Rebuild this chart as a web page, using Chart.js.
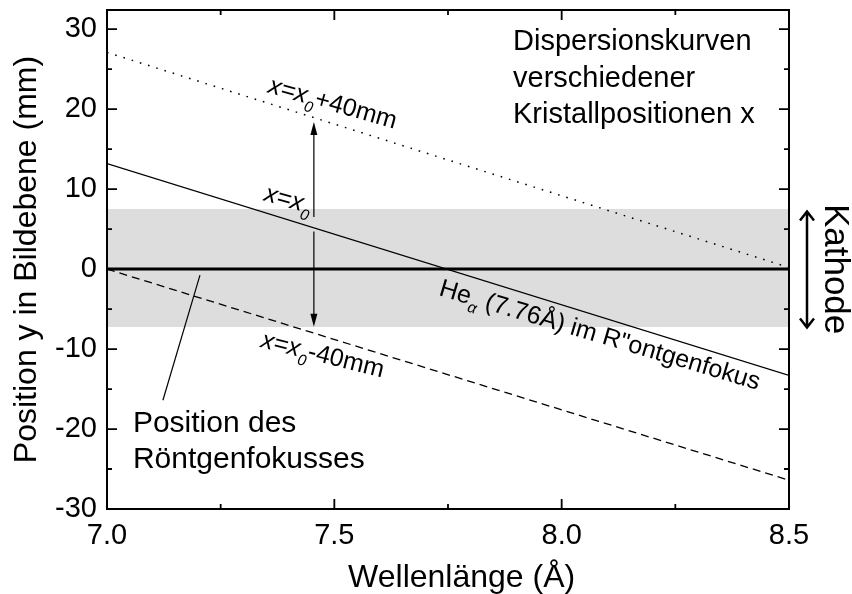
<!DOCTYPE html>
<html>
<head>
<meta charset="utf-8">
<script src="https://cdn.jsdelivr.net/npm/chart.js@4.4.0/dist/chart.umd.min.js"></script>
<style>
  html, body { margin: 0; padding: 0; background: #fff; }
</style>
</head>
<body>
<canvas id="myChart" width="852" height="594"></canvas>
<script>
// wavelength range (Å) and detector position y (mm) at both ends
const wavelengths = [7.0, 8.5];
const curvePlus40 = [27.1, 0.2];    // x = x0 + 40mm
const curveX0 = [13.2, -13.3];      // x = x0
const curveMinus40 = [0.0, -26.4];  // x = x0 - 40mm
const focusLine = [0, 0];           // position of the x-ray focus
const cathodeTop = [7.5, 7.5];
const cathodeBottom = [-7.25, -7.25];

const xTicks = [7.0, 7.5, 8.0, 8.5];
const xMinorTicks = [7.25, 7.75, 8.25];
const yTicks = [-30, -20, -10, 0, 10, 20, 30];
const yMinorTicks = [-25, -15, -5, 5, 15, 25];

const FONT = "'Liberation Sans', Arial, sans-serif";

const toPoints = ys => wavelengths.map((x, i) => ({ x: x, y: ys[i] }));

// text drawn inside the plot, anchored in data units
const labels = [
  { x: 7.352, y: 22.1, angle: 16, size: 25, parts: [{ t: 'x=x', it: true }, { t: '0', it: true, sub: true }, { t: '+40mm' }] },
  { x: 7.343, y: 8.6, angle: 16, size: 25, parts: [{ t: 'x=x', it: true }, { t: '0', it: true, sub: true }] },
  { x: 7.336, y: -9.75, angle: 14, size: 25, parts: [{ t: 'x=x', it: true }, { t: '0', it: true, sub: true }, { t: '-40mm' }] },
  { x: 7.728, y: -3.25, angle: 16.5, size: 25, parts: [{ t: 'He' }, { t: 'α', it: true, sub: true }, { t: ' (7.76Å) im R"ontgenfokus' }] },
  { x: 7.893, y: 27.4, angle: 0, size: 29, parts: [{ t: 'Dispersionskurven' }] },
  { x: 7.893, y: 22.75, angle: 0, size: 29, parts: [{ t: 'verschiedener' }] },
  { x: 7.893, y: 18.25, angle: 0, size: 29, parts: [{ t: 'Kristallpositionen x' }] },
  { x: 7.057, y: -20.4, angle: 0, size: 30, parts: [{ t: 'Position des' }] },
  { x: 7.057, y: -24.9, angle: 0, size: 30, parts: [{ t: 'Röntgenfokusses' }] }
];

function drawRich(ctx, px, py, angle, parts, size) {
  ctx.save();
  ctx.translate(px, py);
  ctx.rotate(angle * Math.PI / 180);
  ctx.textAlign = 'left';
  ctx.textBaseline = 'alphabetic';
  ctx.fillStyle = '#000';
  let cx = 0;
  parts.forEach(p => {
    const s = p.sub ? size * 0.62 : size;
    ctx.font = (p.it ? 'italic ' : '') + s + 'px ' + FONT;
    ctx.fillText(p.t, cx, p.sub ? size * 0.3 : 0);
    cx += ctx.measureText(p.t).width;
  });
  ctx.restore();
}

function filledArrow(ctx, x, y0, y1) {
  const dir = Math.sign(y1 - y0);
  ctx.beginPath();
  ctx.moveTo(x, y0);
  ctx.lineTo(x, y1 - dir * 8);
  ctx.stroke();
  ctx.beginPath();
  ctx.moveTo(x, y1);
  ctx.lineTo(x - 3.5, y1 - dir * 13);
  ctx.lineTo(x + 3.5, y1 - dir * 13);
  ctx.closePath();
  ctx.fill();
}

const framePlugin = {
  id: 'frame',
  afterDatasetsDraw(chart) {
    const { ctx, chartArea: a, scales: { x, y } } = chart;
    ctx.save();
    ctx.strokeStyle = '#000';
    ctx.fillStyle = '#000';
    ctx.lineWidth = 2;
    ctx.strokeRect(a.left, a.top, a.right - a.left, a.bottom - a.top);

    // inward ticks on all four sides
    ctx.lineWidth = 1.8;
    ctx.beginPath();
    const xt = (v, len) => {
      const px = x.getPixelForValue(v);
      ctx.moveTo(px, a.bottom); ctx.lineTo(px, a.bottom - len);
      ctx.moveTo(px, a.top); ctx.lineTo(px, a.top + len);
    };
    const yt = (v, len) => {
      const py = y.getPixelForValue(v);
      ctx.moveTo(a.left, py); ctx.lineTo(a.left + len, py);
      ctx.moveTo(a.right, py); ctx.lineTo(a.right - len, py);
    };
    xTicks.forEach(v => xt(v, 10));
    xMinorTicks.forEach(v => xt(v, 5));
    yTicks.forEach(v => yt(v, 10));
    yMinorTicks.forEach(v => yt(v, 5));
    ctx.stroke();

    // annotation texts
    labels.forEach(l => drawRich(ctx, x.getPixelForValue(l.x), y.getPixelForValue(l.y), l.angle, l.parts, l.size));

    // x axis title
    ctx.font = '32px ' + FONT;
    ctx.textAlign = 'center';
    ctx.textBaseline = 'alphabetic';
    ctx.fillText('Wellenlänge (Å)', x.getPixelForValue(7.78), a.bottom + 78);

    // arrows between the dispersion curves
    ctx.lineWidth = 1.2;
    const ax = x.getPixelForValue(7.455);
    filledArrow(ctx, ax, y.getPixelForValue(6.5), y.getPixelForValue(18.4));
    filledArrow(ctx, ax, y.getPixelForValue(4.7), y.getPixelForValue(-7.2));

    // pointer to the focus line
    ctx.beginPath();
    ctx.moveTo(x.getPixelForValue(7.2045), y.getPixelForValue(-0.75));
    ctx.lineTo(x.getPixelForValue(7.123), y.getPixelForValue(-16.4));
    ctx.stroke();

    // cathode marker right of the plot
    const kx = a.right + 18;
    const k0 = y.getPixelForValue(7.2), k1 = y.getPixelForValue(-7.3);
    ctx.lineWidth = 2.5;
    ctx.beginPath();
    ctx.moveTo(kx, k0); ctx.lineTo(kx, k1);
    ctx.moveTo(kx - 7, k0 + 9); ctx.lineTo(kx, k0); ctx.lineTo(kx + 7, k0 + 9);
    ctx.moveTo(kx - 7, k1 - 9); ctx.lineTo(kx, k1); ctx.lineTo(kx + 7, k1 - 9);
    ctx.stroke();

    ctx.save();
    ctx.translate(a.right + 36, y.getPixelForValue(0));
    ctx.rotate(Math.PI / 2);
    ctx.font = '35px ' + FONT;
    ctx.textAlign = 'center';
    ctx.textBaseline = 'alphabetic';
    ctx.fillText('Kathode', 0, 0);
    ctx.restore();

    ctx.restore();
  }
};

const lineStyle = { pointRadius: 0, tension: 0, fill: false, borderColor: '#000' };

new Chart(document.getElementById('myChart'), {
  type: 'line',
  data: {
    datasets: [
      { ...lineStyle, label: 'x0+40mm', data: toPoints(curvePlus40), borderWidth: 1.5, borderDash: [1.6, 7] },
      { ...lineStyle, label: 'x0', data: toPoints(curveX0), borderWidth: 1.3 },
      { ...lineStyle, label: 'x0-40mm', data: toPoints(curveMinus40), borderWidth: 1.3, borderDash: [8, 5] },
      { ...lineStyle, label: 'Fokus', data: toPoints(focusLine), borderWidth: 3 },
      { ...lineStyle, label: 'Kathode unten', data: toPoints(cathodeBottom), borderWidth: 0 },
      { ...lineStyle, label: 'Kathode oben', data: toPoints(cathodeTop), borderWidth: 0,
        fill: '-1', backgroundColor: '#dddddd' }
    ]
  },
  options: {
    responsive: false,
    animation: false,
    layout: { padding: { top: 10, right: 63, bottom: 0, left: 0 } },
    plugins: { legend: { display: false }, tooltip: { enabled: false } },
    scales: {
      x: {
        type: 'linear',
        min: 7.0,
        max: 8.5,
        afterFit: s => { s.height = 85; s.paddingLeft = 0; s.paddingRight = 0; },
        afterBuildTicks: s => { s.ticks = xTicks.map(v => ({ value: v })); },
        grid: { display: false, drawTicks: false },
        border: { display: false },
        ticks: {
          color: '#000',
          padding: 10,
          maxRotation: 0,
          font: { family: FONT, size: 29 },
          callback: v => v.toFixed(1)
        }
      },
      y: {
        type: 'linear',
        min: -30,
        max: 32.4,
        afterFit: s => { s.width = 107; s.paddingTop = 0; s.paddingBottom = 0; },
        afterBuildTicks: s => { s.ticks = yTicks.map(v => ({ value: v })); },
        grid: { display: false, drawTicks: false },
        border: { display: false },
        ticks: {
          color: '#000',
          padding: 10,
          font: { family: FONT, size: 29 },
          callback: v => String(v)
        },
        title: {
          display: true,
          text: 'Position y in Bildebene (mm)',
          color: '#000',
          font: { family: FONT, size: 32 },
          padding: { top: 8, bottom: 0 }
        }
      }
    }
  },
  plugins: [framePlugin]
});
</script>
</body>
</html>
